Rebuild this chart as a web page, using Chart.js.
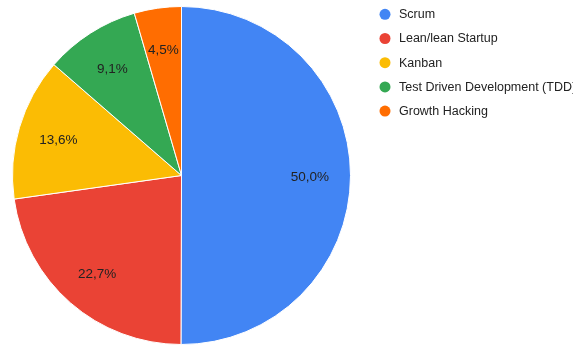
<!DOCTYPE html>
<html>
<head>
<meta charset="utf-8">
<script src="https://cdn.jsdelivr.net/npm/chart.js@4/dist/chart.umd.min.js"></script>
<style>
  html, body { margin: 0; padding: 0; background: #fff; }
  #wrap { width: 573px; height: 345px; position: relative; }
</style>
</head>
<body>
<div id="wrap"><canvas id="pie-chart"></canvas></div>
<script>
const labels = ['Scrum', 'Lean/lean Startup', 'Kanban', 'Test Driven Development (TDD)', 'Growth Hacking'];
const shares = [50.0, 22.7, 13.6, 9.1, 4.5];
const colors = ['#4285F4', '#EA4335', '#FBBC04', '#34A853', '#FF6D01'];

const FONT = 'Arial, "Liberation Sans", sans-serif';

// percent text inside each slice, a bit past the middle of the radius
const sliceLabels = {
    id: 'sliceLabels',
    afterDatasetsDraw(chart) {
        const ctx = chart.ctx;
        const meta = chart.getDatasetMeta(0);
        ctx.save();
        ctx.font = '13.5px ' + FONT;
        ctx.fillStyle = '#222';
        ctx.textAlign = 'center';
        ctx.textBaseline = 'middle';
        meta.data.forEach((arc, i) => {
            const p = arc.getProps(['x', 'y', 'startAngle', 'endAngle', 'outerRadius'], true);
            const mid = (p.startAngle + p.endAngle) / 2;
            const r = p.outerRadius * 0.76;
            const txt = shares[i].toFixed(1).replace('.', ',') + '%';
            ctx.fillText(txt, p.x + Math.cos(mid) * r, p.y + Math.sin(mid) * r + 1.5);
        });
        ctx.restore();
    }
};

// legend on the right: dot + name
const sideLegend = {
    id: 'sideLegend',
    afterDraw(chart) {
        const ctx = chart.ctx;
        ctx.save();
        ctx.font = '12.5px ' + FONT;
        ctx.textBaseline = 'middle';
        labels.forEach((name, i) => {
            const y = 14.3 + i * 24.2;
            ctx.beginPath();
            ctx.arc(385, y, 5.5, 0, Math.PI * 2);
            ctx.fillStyle = colors[i];
            ctx.fill();
            ctx.fillStyle = '#222';
            ctx.fillText(name, 399, y + 0.5);
        });
        ctx.restore();
    }
};

new Chart(document.getElementById('pie-chart'), {
    type: 'pie',
    data: {
        labels: labels,
        datasets: [{
            data: shares,
            backgroundColor: colors,
            borderColor: '#fff',
            borderWidth: 1
        }]
    },
    options: {
        responsive: true,
        maintainAspectRatio: false,
        animation: false,
        layout: {
            padding: { left: 12, right: 222, top: 6, bottom: 0 }
        },
        plugins: {
            legend: { display: false },
            tooltip: { enabled: false }
        }
    },
    plugins: [sliceLabels, sideLegend]
});
</script>
</body>
</html>
